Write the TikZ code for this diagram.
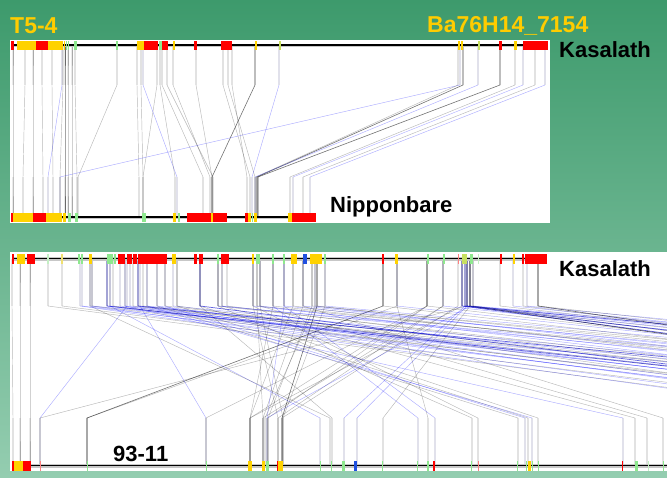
\documentclass[tikz,border=0pt]{standalone}
\usepackage{fontspec}
\setmainfont{Liberation Sans}
\definecolor{bgtop}{HTML}{3D9A6C}
\definecolor{bgbot}{HTML}{94CDB0}
\definecolor{titleyellow}{HTML}{FFCC00}
\definecolor{bred}{HTML}{FF0000}
\definecolor{bredl}{HTML}{FF8080}
\definecolor{byel}{HTML}{FFD200}
\definecolor{byell}{HTML}{F0E070}
\definecolor{bgrn}{HTML}{8EE88E}
\definecolor{bgrnl}{HTML}{C4F0C4}
\definecolor{bgy}{HTML}{C8E060}
\definecolor{bblu}{HTML}{2050E0}
\begin{document}
\begin{tikzpicture}[x=1pt,y=-1pt,
  cg/.style={draw=black,opacity=0.28,line width=0.45pt},
  cb/.style={draw=blue,opacity=0.32,line width=0.45pt},
  cd/.style={draw=black,opacity=0.55,line width=0.6pt},
  cdb/.style={draw=blue!80!black,opacity=0.6,line width=0.7pt},
  vhalo/.style={draw=black,opacity=0.08,line width=1.4pt},
  chrom/.style={draw=black,line width=1.3pt},
  chromsh/.style={draw=black!22,line width=3.4pt},
  lbl/.style={font=\fontsize{22}{26}\selectfont\bfseries,anchor=base west,inner sep=0pt},
  ylbl/.style={font=\fontsize{23}{27}\selectfont\bfseries,anchor=base west,inner sep=0pt,text=titleyellow}]
\useasboundingbox (0,0) rectangle (667,477);
\shade[top color=bgtop,bottom color=bgbot] (0,0) rectangle (667,477);
% panels
\fill[white] (10,40) rectangle (550,223);
\fill[white] (10,252) rectangle (667,471);

% ---------- top panel connectors ----------
\begin{scope}
\clip (10,40) rectangle (550,223);
\foreach \t/\b/\c in {13/13/cg,25/23/cg,33/33/cg,42/43/cg,52/53/cg,62/48/cb,63/60/cg,65/65/cd,68/68/cg,72/72/cg,75/77/cg,117/78/cg,137/139/cg,141/143/cg,143/177/cb,157/143/cg,160/175/cg,162/203/cg,167/213/cg,173/210/cg,196/212/cg,223/250/cg,228/255/cg,232/247/cg,255/212/cd,279/252/cb,460/60/cb,458/256/cg,463/257/cd,478/255/cb,500/258/cd,515/290/cg,523/293/cb,535/303/cg,545/310/cb}{
  \draw[vhalo] (\t,46)--(\t,85) (\b,177)--(\b,216);
  \draw[\c] (\t,46)--(\t,85)--(\b,177)--(\b,216);
}
\end{scope}

% ---------- lower panel connectors ----------
\begin{scope}
\clip (10,252) rectangle (667,471);
\foreach \t/\b/\c in {12/13/cg,20/20/cg,30/30/cg,467/40/cg,127/40/cb,397/87/cg,383/87/cd,427/206/cg,140/206/cb,
 293/250/cg,303/263/cg,284/267/cb,312/268/cg,443/278/cg,458/282/cg,325/283/cg,257/263/cg,462/250/cg,470/267/cb,427/268/cg,
 253/278/cg,260/283/cg,273/250/cg,315/265/cg,317/282/cd,443/263/cg,427/250/cg,
 110/320/cb,200/332/cg,90/330/cg,465/344/cb,467/357/cb,470/383/cg,273/418/cb,397/428/cg,284/435/cb,218/472/cg,253/478/cg,
 157/518/cg,165/525/cb,177/528/cg,147/532/cb,200/538/cg,125/623/cb,222/635/cg,260/647/cg,303/663/cg,
 48/900/cg,62/950/cg,80/880/cb,82/1000/cb,90/920/cb,92/1050/cg,107/980/cb,110/1100/cb,113/1020/cg,120/1150/cb,125/960/cb,130/1080/cb,133/1200/cg,138/1000/cb,143/1120/cg,147/1250/cb,157/1060/cb,165/1180/cg,173/1300/cb,177/1000/cg,200/1100/cdb,218/1220/cg,222/1350/cb,227/1150/cg,253/1280/cb,257/1400/cg,260/1200/cb,273/1320/cg,284/1450/cb,293/1250/cg,303/1380/cb,312/1500/cg,315/1300/cb,317/1420/cg,325/1550/cb,383/1350/cg,397/1450/cb,427/1400/cg,443/1500/cb,462/1300/cdb,465/1400/cdb,467/1500/cg,470/1600/cb,473/1350/cg,500/1500/cg,513/1600/cb,523/1450/cg,527/1700/cb,538/1550/cg,538/1300/cd,470/1250/cd,
 467/1700/cdb,462/1550/cb,473/1800/cb,107/1150/cdb,92/1250/cb,138/1300/cdb,218/1450/cb}{
  \draw[vhalo] (\t,259)--(\t,306) (\b,418)--(\b,465);
  \draw[\c] (\t,259)--(\t,306)--(\b,418)--(\b,465);
}
\end{scope}

% ---------- chromosomes ----------
\draw[chromsh] (12,45.5) -- (548,45.5);
\draw[chrom] (12,45) -- (548,45);
\foreach \a/\b/\c in {11/14/bred,17/36/byel,36/48/bred,48/63/byel,64/65/byel,66/67/bgrn,68/69/bgrn,74/77/bgrn,116/118/bgrn,137/144/byel,144/158/bred,159/162/bgrn,162/168/bred,173/175/byel,194/197/bred,221/232/bred,255/257/byel,279/281/bgy,458/460/byel,461/463/byel,478/480/bgy,499/502/bred,514/517/byel,523/526/bred,526/548/bred}
  \fill[fill=\c] (\a,40.5) rectangle (\b,49.5);

\draw[chromsh] (12,217.5) -- (316,217.5);
\draw[chrom] (12,217) -- (316,217);
\foreach \a/\b/\c in {11/13/bred,13/33/byel,33/46/bred,46/62/byel,63/66/byel,68/71/bgrn,75/78/bgrn,142/146/bgrn,173/176/byel,178/180/bgrn,187/211/bred,211/213/byel,213/227/bred,245/248/bred,248/251/byel,252/253/bgrn,254/257/byel,288/292/byel,292/316/bred}
  \fill[fill=\c] (\a,212.5) rectangle (\b,221.5);

\draw[chromsh] (12,259) -- (547,259);
\draw[chrom] (12,258.5) -- (547,258.5);
\foreach \a/\b/\c in {12/14/bred,17/25/byel,27/35/bred,47/49/bgrnl,61/63/byell,78/80/bgrn,81/83/bgrn,89/92/byel,107/113/bgrn,114/116/bgrn,118/125/bred,127/132/bred,133/137/bred,138/167/bred,172/176/byel,194/197/bred,199/203/bred,217/219/bgrn,221/229/bred,252/254/byel,256/260/bgrn,272/274/bgrn,283/285/bgrn,291/297/byel,303/307/bblu,310/322/byel,324/326/bgrn,382/384/bred,395/398/byel,427/429/bgrn,443/445/bgrn,458/459/bredl,462/467/bgy,470/473/bgrn,478/479/bgrnl,500/502/bred,513/515/byel,522/524/bred,525/547/bred}
  \fill[fill=\c] (\a,253.5) rectangle (\b,263.5);

\draw[chromsh] (12,466) -- (667,466);
\draw[chrom] (12,465.5) -- (667,465.5);
\foreach \a/\b/\c in {12/14/bred,14/23/byel,23/31/bred,40/41/bredl,87/88/bgrn,206/207/bgrn,248/252/byel,262/265/byel,266/269/bgrn,277/278/bred,278/283/byel,320/321/bgrn,331/332/bgrn,342/345/bgrn,354/357/bblu,382/383/bgrn,417/418/bgrn,427/429/bgrn,433/435/bred,471/472/bgrn,478/479/bredl,517/518/bgrn,526/527/bgrn,528/531/byel,532/533/bgrn,538/539/bgrn,622/623/bred,635/638/bgrn,648/649/bgrnl,663/664/bgrn}
  \fill[fill=\c] (\a,460.5) rectangle (\b,470.5);

% ---------- labels ----------
\node[ylbl] (t54) at (10,33) {T5-4};
\node[ylbl] (ba) at (427,32) {Ba76H14\_7154};
\node[lbl] (kas1) at (559,57) {Kasalath};
\node[lbl] (nip) at (330,212) {Nipponbare};
\node[lbl] (kas2) at (559,276) {Kasalath};
\node[lbl] (n9311) at (113,461) {93-11};
\end{tikzpicture}
\end{document}
